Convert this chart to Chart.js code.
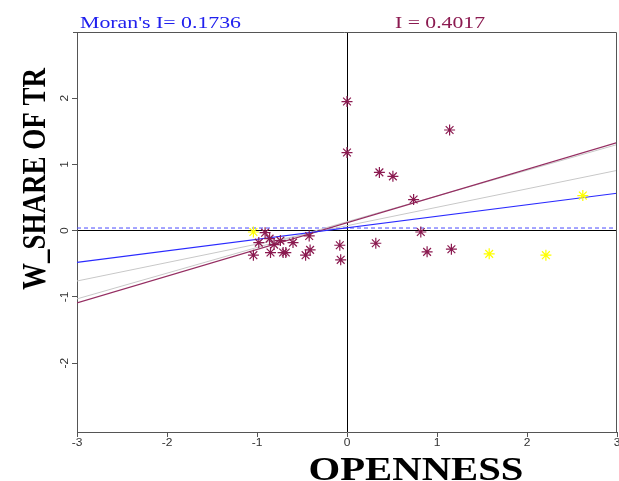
<!DOCTYPE html>
<html>
<head>
<meta charset="utf-8">
<script src="https://cdn.jsdelivr.net/npm/chart.js@4/dist/chart.umd.min.js"></script>
<style>
  html, body { margin: 0; padding: 0; background: #ffffff; }
  #wrap { width: 619px; height: 481px; }
</style>
</head>
<body>
<div id="wrap"><canvas id="c" width="619" height="481"></canvas></div>
<script>
// ---- data ----
const xTicks = [-3, -2, -1, 0, 1, 2, 3];
const yTicks = [-2, -1, 0, 1, 2];

const maroonX = [0.00, 0.00, 1.14, 0.36, 0.51, 0.74, -0.91, -0.98, -0.86, -0.81, -0.74, -0.60, -0.42,
                 -1.04, -0.85, -0.71, -0.68, -0.41, -0.46, -0.08, -0.07, 0.32, 0.82, 0.89, 1.16];
const maroonY = [1.95, 1.18, 1.52, 0.88, 0.82, 0.47, -0.03, -0.18, -0.12, -0.21, -0.15, -0.18, -0.08,
                 -0.37, -0.33, -0.33, -0.33, -0.29, -0.37, -0.22, -0.44, -0.19, -0.02, -0.32, -0.28];

const yellowX = [-1.04, 1.58, 2.21, 2.62];
const yellowY = [-0.02, -0.35, -0.37, 0.53];

const blueLineX = [-3, 3];       const blueLineY = [-0.48, 0.565];
const maroonLineX = [-3, 3];     const maroonLineY = [-1.09, 1.33];
const grayLine1X = [-3, 3];      const grayLine1Y = [-1.03, 1.30];
const grayLine2X = [-3, 3];      const grayLine2Y = [-0.76, 0.91];
const meanLineX = [-3, 3];       const meanLineY = [0.04, 0.04];

const leftLabel = "Moran's I= 0.1736";
const rightLabel = "I = 0.4017";
const xTitle = "OPENNESS";
const yTitle = "W_SHARE OF TR";

// ---- helpers ----
const pts = (xs, ys) => xs.map((x, i) => ({ x: x, y: ys[i] }));

const MAROON = '#8b1a50';
const YELLOW = '#ffff00';
const AXIS = '#555555';

function lineSet(xs, ys, color, width, dash) {
  return {
    data: pts(xs, ys),
    showLine: true,
    borderColor: color,
    borderWidth: width,
    borderDash: dash || [],
    pointRadius: 0,
    fill: false
  };
}

function fitText(ctx, text, x, y, targetW) {
  const w = ctx.measureText(text).width;
  ctx.save();
  ctx.translate(x, y);
  ctx.scale(targetW / w, 1);
  ctx.fillText(text, 0, 0);
  ctx.restore();
}

const decor = {
  id: 'decor',
  afterDraw(chart) {
    const ctx = chart.ctx;
    const a = chart.chartArea;
    const xs = chart.scales.x;
    const ys = chart.scales.y;
    ctx.save();
    // top and right frame lines
    ctx.strokeStyle = AXIS;
    ctx.lineWidth = 1;
    ctx.beginPath();
    ctx.moveTo(a.left - 4, a.top + 0.5);
    ctx.lineTo(a.right - 0.5, a.top + 0.5);
    ctx.lineTo(a.right - 0.5, a.bottom);
    ctx.stroke();

    // tick labels
    ctx.fillStyle = '#333333';
    ctx.font = '10px "Liberation Sans", Arial, sans-serif';
    ctx.textAlign = 'center';
    ctx.textBaseline = 'middle';
    yTicks.forEach(v => {
      const py = ys.getPixelForValue(v);
      ctx.save();
      ctx.translate(a.left - 12, py);
      ctx.rotate(-Math.PI / 2);
      ctx.scale(1.2, 1);
      ctx.fillText(String(v), 0, 0);
      ctx.restore();
    });
    xTicks.forEach(v => {
      const px = xs.getPixelForValue(v);
      ctx.save();
      ctx.translate(px, a.bottom + 11);
      ctx.scale(1.2, 1);
      ctx.fillText(String(v), 0, 0);
      ctx.restore();
    });

    // top labels (horizontally stretched like the reference)
    ctx.textAlign = 'left';
    ctx.textBaseline = 'alphabetic';
    ctx.font = '16px "Liberation Serif", "Times New Roman", serif';
    ctx.fillStyle = '#2020ee';
    fitText(ctx, leftLabel, 80, 28, 161);
    ctx.fillStyle = MAROON;
    fitText(ctx, rightLabel, 395, 28, 90);

    // x title (stretched to match)
    ctx.font = 'bold 33px "Liberation Serif", "Times New Roman", serif';
    ctx.fillStyle = '#000000';
    ctx.textAlign = 'center';
    fitText(ctx, xTitle, 416, 480, 215);

    // y title (rotated, condensed to match)
    const w = ctx.measureText(yTitle).width;
    ctx.save();
    ctx.translate(45, 179);
    ctx.rotate(-Math.PI / 2);
    ctx.scale(222 / w, 1);
    ctx.fillText(yTitle, 0, 0);
    ctx.restore();

    ctx.restore();
  }
};

new Chart(document.getElementById('c'), {
  type: 'scatter',
  data: {
    datasets: [
      { data: pts(yellowX, yellowY), pointStyle: 'star', pointRadius: 5.5, borderColor: YELLOW, backgroundColor: YELLOW, borderWidth: 1.2 },
      { data: pts(maroonX, maroonY), pointStyle: 'star', pointRadius: 5.5, borderColor: MAROON, backgroundColor: MAROON, borderWidth: 1.2 },
      lineSet(blueLineX, blueLineY, '#2a2aff', 1.2),
      lineSet(maroonLineX, maroonLineY, '#952e62', 1.2),
      lineSet(grayLine1X, grayLine1Y, '#c8c8c8', 1),
      lineSet(grayLine2X, grayLine2Y, '#c8c8c8', 1),
      lineSet(meanLineX, meanLineY, '#4a4aff', 1, [4, 3])
    ]
  },
  options: {
    responsive: false,
    animation: false,
    events: [],
    layout: { autoPadding: false, padding: { top: 32, right: 2, left: 0, bottom: 0 } },
    plugins: { legend: { display: false }, tooltip: { enabled: false }, title: { display: false } },
    scales: {
      x: {
        type: 'linear',
        min: -3, max: 3,
        afterBuildTicks: s => { s.ticks = xTicks.map(v => ({ value: v })); },
        afterFit: s => { s.height = 49; s.paddingLeft = 0; s.paddingRight = 0; },
        ticks: { display: false },
        grid: {
          color: c => (c.tick && c.tick.value === 0) ? '#000000' : 'rgba(0,0,0,0)',
          lineWidth: 1,
          tickLength: 5,
          tickColor: AXIS
        },
        border: { color: AXIS, width: 1 }
      },
      y: {
        type: 'linear',
        min: -3.04, max: 3,
        afterBuildTicks: s => { s.ticks = yTicks.map(v => ({ value: v })); },
        afterFit: s => { s.width = 77; s.paddingTop = 0; s.paddingBottom = 0; },
        ticks: { display: false },
        grid: {
          color: c => (c.tick && c.tick.value === 0) ? '#000000' : 'rgba(0,0,0,0)',
          lineWidth: 1,
          tickLength: 5,
          tickColor: AXIS
        },
        border: { color: AXIS, width: 1 }
      }
    }
  },
  plugins: [decor]
});
</script>
</body>
</html>
